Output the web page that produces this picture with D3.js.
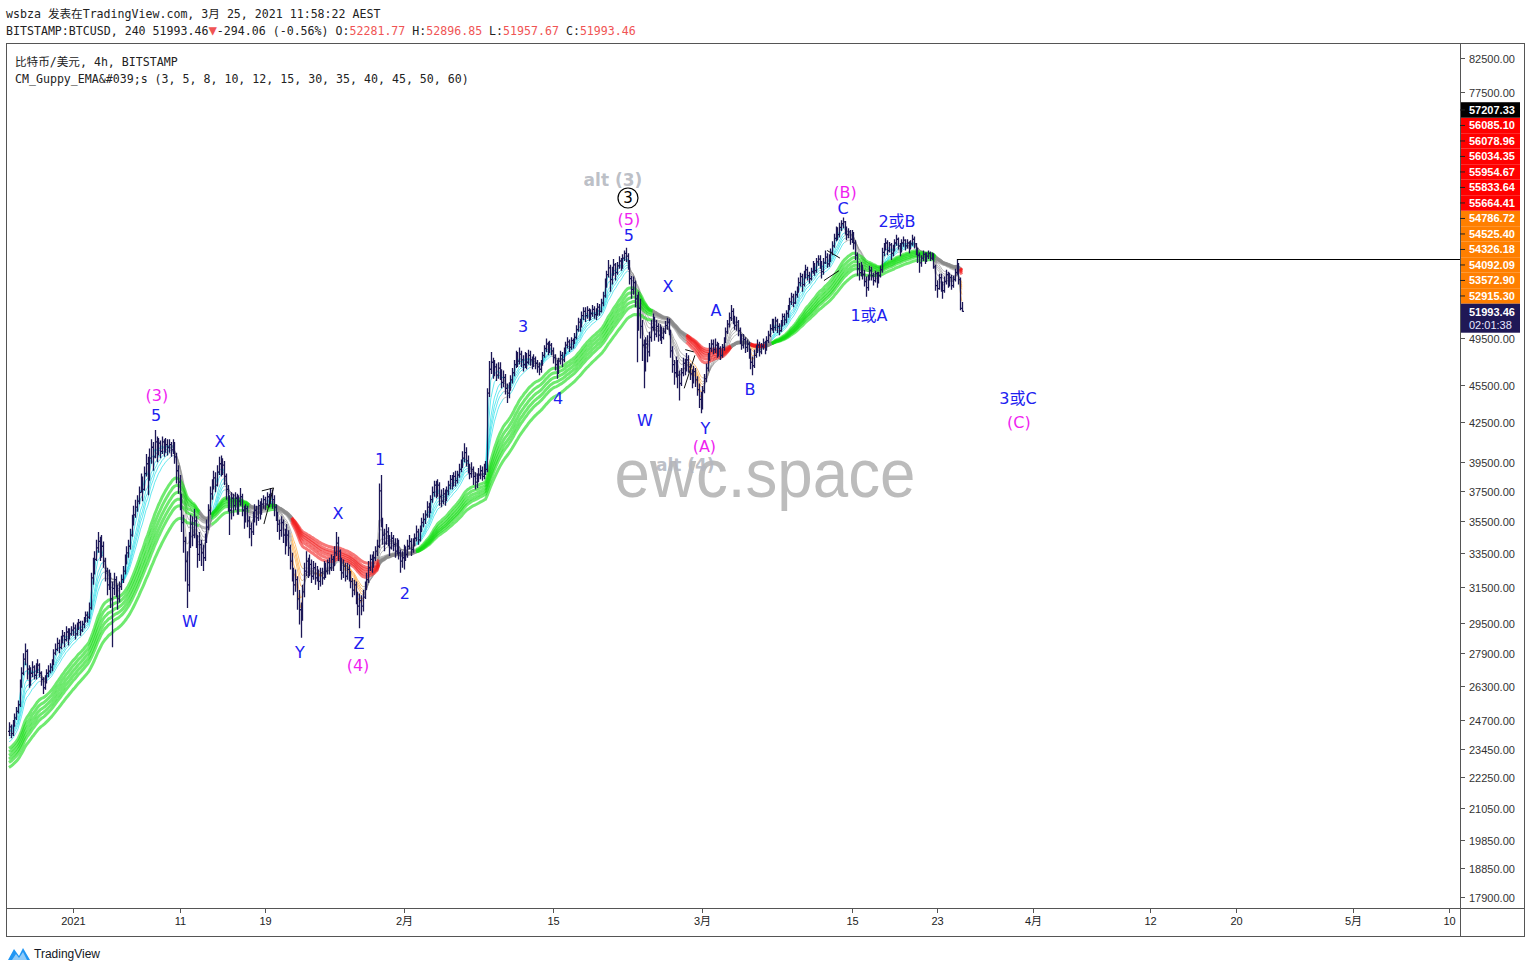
<!DOCTYPE html>
<html><head><meta charset="utf-8">
<script src="https://cdn.jsdelivr.net/npm/d3@7"></script>
<style>body{margin:0;background:#fff}svg{display:block}</style>
</head><body><svg id="c" width="1531" height="973"></svg>
<script>
// ---------------- DATA ----------------
const barStartUTC = Date.UTC(2020, 11, 26, 0, 0);   // first 4h bar
const barHours = 4;
const firstOpen = 24.2;  // thousand USD
const lastOpen = 52.28177;
const closes = [
24.4,24.1,24.6,24.8,25.1,25.4, 26.4,26.9,27.6,28.0,27.1,26.5, 26.9,27.2,26.8,27.1,27.3,26.9, 26.6,26.2,26.5,26.9,27.0,27.2,
27.4,27.9,28.1,28.4,28.2,28.5, 28.8,28.6,29.0,28.7,28.9,29.1, 29.2,28.9,29.3,29.5,29.1,29.4, 29.6,29.9,29.8,30.3,32.0,32.5,
33.1,33.8,34.2,33.4,33.9,33.0, 32.4,31.6,32.1,30.8,31.4,31.9, 31.4,30.8,31.5,31.9,32.4,33.0, 33.5,33.9,34.6,35.4,35.9,36.4,
36.8,37.4,38.2,37.6,38.7,39.4, 38.5,39.8,40.6,39.9,41.0,40.3, 40.9,40.3,41.0,40.5,40.8,40.6, 40.8,40.4,40.9,39.9,38.9,38.1,
36.9,35.4,34.2,33.0,31.6,34.2, 35.3,34.6,35.5,34.2,33.4,34.0, 33.5,33.2,34.3,35.1,36.2,37.3, 37.8,38.4,37.9,38.8,39.4,39.1,
39.3,38.5,37.6,36.9,36.2,37.0, 36.5,37.0,36.3,36.8,37.1,36.2, 35.7,36.3,35.5,35.0,34.8,35.8, 36.2,35.7,36.5,36.1,36.6,36.9,
36.6,37.1,36.8,37.3,36.9,36.4, 35.9,35.3,34.9,35.4,34.6,34.2, 34.6,33.8,33.0,32.4,31.6,31.9, 30.8,30.2,29.8,31.2,32.4,33.0,
32.4,32.8,32.1,32.6,32.0,32.3, 31.8,32.3,32.0,32.7,32.4,32.9, 32.6,33.1,32.8,33.5,34.1,33.6, 32.9,32.3,32.7,32.1,32.5,32.2,
31.8,31.3,31.6,30.9,30.4,30.7, 30.4,30.9,31.5,31.9,32.6,33.1, 32.8,33.2,33.6,33.9,37.5,35.6, 34.6,34.1,34.8,34.3,33.8,34.4,
34.0,33.6,34.1,33.5,33.0,33.2, 33.6,33.4,33.9,34.2,33.7,34.1, 34.4,34.8,34.3,34.9,35.4,35.6, 35.9,36.4,36.1,36.9,37.4,37.9,
37.4,37.9,37.1,36.8,37.3,37.0, 37.5,37.9,38.3,38.0,38.5,38.2, 38.6,39.0,39.3,39.8,40.2,39.6, 39.2,38.7,39.0,38.5,38.1,38.3,
38.6,38.9,38.5,38.8,39.0,44.8, 46.8,47.4,46.5,47.0,46.3,46.9, 46.4,45.7,46.1,45.2,44.8,45.3, 45.9,46.5,47.2,47.9,47.5,48.1,
47.6,47.2,47.9,47.4,48.0,47.6, 47.2,47.7,47.3,47.0,46.8,47.3, 48.0,48.6,49.0,48.5,48.9,48.4, 47.8,47.2,46.6,47.5,48.0,47.6,
48.4,48.9,49.2,48.7,49.3,49.1, 49.6,50.3,51.0,50.6,51.6,52.0, 51.6,52.1,51.4,51.8,52.2,51.7, 51.9,52.4,52.0,52.8,53.5,54.6,
55.6,56.3,55.1,55.9,56.6,55.8, 56.5,57.0,56.4,57.3,57.8,57.5, 56.8,55.2,54.1,54.8,53.2,51.0, 52.3,50.6,48.9,47.2,49.0,48.3,
49.6,50.5,51.3,49.9,50.6,49.8, 50.3,49.6,50.1,50.7,51.0,50.2, 48.4,47.2,46.5,47.4,46.3,45.6, 46.5,47.3,46.8,47.6,47.0,46.4,
45.8,46.6,45.9,45.1,44.3,44.0, 45.0,46.0,46.9,47.8,48.6,49.0, 48.5,48.9,48.2,48.6,48.0,48.7, 49.3,50.1,50.8,51.4,52.0,51.3,
50.7,51.0,50.2,49.6,48.9,49.4, 48.7,49.0,48.2,47.4,47.1,48.0, 48.5,48.9,48.3,48.8,49.1,48.6, 49.3,49.8,50.4,50.9,50.5,51.1,
50.6,50.2,50.8,51.5,51.2,51.8, 52.3,52.9,53.4,52.8,53.6,54.1, 54.8,55.4,54.6,55.6,56.1,55.5, 55.2,55.9,56.5,56.0,56.9,57.2,
56.6,55.9,56.8,57.4,56.7,57.3, 57.9,58.6,59.4,60.2,59.8,60.6, 61.0,61.2,60.3,59.8,60.1,59.3, 59.8,58.9,57.6,56.2,55.8,56.4,
55.6,54.9,54.3,55.2,56.0,55.5, 55.0,55.7,54.8,55.5,56.1,57.9, 58.4,58.9,58.1,58.7,57.8,58.3, 58.9,59.3,58.6,58.2,58.9,59.2,
58.6,58.9,58.4,58.8,59.3,58.8, 58.2,57.6,56.8,57.3,57.7,57.2, 57.5,57.8,57.3,57.6,56.4,54.5, 54.2,55.3,54.6,54.0,54.9,55.6,
54.8,55.3,54.5,55.1,55.8,56.6, 55.1,52.28752,51.99346];
const highs = [
24.6,24.5,24.7,25.0,25.3,25.6, 26.6,27.2,27.9,28.4,28.1,27.3, 27.2,27.5,27.3,27.4,27.6,27.4, 27.0,26.7,26.8,27.1,27.3,27.4,
27.6,28.1,28.4,28.7,28.6,28.8, 29.1,29.0,29.3,29.2,29.2,29.3, 29.5,29.4,29.5,29.7,29.6,29.6, 29.8,30.1,30.1,30.6,32.3,33.2,
33.6,34.3,34.8,34.5,34.6,34.2, 33.2,32.6,32.5,32.3,31.8,32.3, 32.1,31.6,31.8,32.2,32.7,33.4, 33.9,34.3,35.0,35.9,36.5,36.9,
37.2,37.8,38.7,38.5,39.2,40.1, 39.9,40.5,41.2,41.0,41.9,41.4, 41.3,41.1,41.4,41.2,41.3,41.2, 41.2,41.0,41.2,41.0,40.2,39.3,
38.6,37.3,35.9,34.5,33.6,34.8, 35.9,35.8,36.3,35.8,34.6,34.8, 34.3,34.0,34.7,35.6,36.6,37.8, 38.3,38.9,38.8,39.3,39.9,40.0,
39.8,39.6,38.7,37.9,37.2,37.4, 37.3,37.4,37.3,37.2,37.7,37.3, 36.5,36.6,36.5,35.8,35.4,36.1, 36.6,36.5,36.9,36.8,37.0,37.2,
37.1,37.4,37.3,37.7,37.6,37.2, 36.6,36.1,35.6,35.8,35.6,35.0, 35.3,34.9,34.0,33.5,32.6,32.5, 32.1,31.3,30.6,31.6,32.9,33.6,
33.2,33.4,33.1,33.0,32.9,32.7, 32.5,32.6,32.6,33.0,32.9,33.1, 33.2,33.4,33.3,33.9,34.8,34.5, 33.7,33.2,33.1,32.9,32.9,32.8,
32.4,32.0,31.9,31.8,31.2,31.1, 31.0,31.3,31.8,32.3,33.0,33.4, 33.4,33.6,33.9,34.3,38.0,38.6, 35.7,35.0,35.3,35.1,34.6,34.8,
34.6,34.4,34.4,34.3,33.7,33.6, 34.0,33.9,34.3,34.6,34.4,34.4, 34.7,35.2,35.0,35.2,35.7,36.0, 36.2,36.8,36.7,37.2,37.8,38.2,
38.2,38.3,38.1,37.6,37.7,37.6, 37.8,38.2,38.6,38.6,38.8,38.9, 38.9,39.4,39.7,40.3,40.9,40.6, 40.0,39.4,39.5,39.2,38.8,38.7,
39.1,39.3,39.2,39.4,39.6,45.2, 47.5,48.3,47.8,47.6,47.3,47.4, 47.4,46.8,46.7,46.4,45.6,45.7, 46.3,46.9,47.6,48.4,48.3,48.7,
48.4,48.0,48.3,48.2,48.5,48.4, 47.9,48.1,47.9,47.6,47.4,47.6, 48.3,48.9,49.5,49.2,49.3,49.1, 48.7,48.1,47.6,47.8,48.4,48.3,
48.7,49.2,49.6,49.4,49.6,49.5, 50.0,50.7,51.4,51.3,52.0,52.4, 52.4,52.5,52.3,52.2,52.6,52.5, 52.3,52.8,52.7,53.2,53.9,55.2,
56.0,57.1,56.6,56.4,57.2,56.8, 56.9,57.5,57.3,57.7,58.1,58.4, 57.8,57.1,55.5,55.4,55.0,53.6, 53.9,53.2,51.2,49.4,49.6,49.8,
50.1,51.2,51.8,51.5,51.2,50.9, 50.8,50.6,50.5,51.1,51.4,51.3, 50.3,48.8,47.6,47.9,47.6,46.7, 46.9,47.8,47.7,48.2,48.0,47.3,
46.8,47.1,46.9,46.2,45.6,44.9, 45.4,46.4,47.3,48.2,49.1,49.4, 49.4,49.5,49.2,49.1,48.8,49.0, 49.6,50.5,51.2,51.9,52.6,52.3,
51.6,51.5,51.2,50.5,49.9,49.9, 49.6,49.4,49.2,48.6,47.9,48.5, 48.9,49.4,49.2,49.1,49.5,49.3, 49.7,50.2,50.8,51.3,51.3,51.5,
51.3,50.9,51.2,51.8,51.8,52.1, 52.6,53.3,53.8,53.7,54.0,54.4, 55.3,55.8,55.7,56.0,56.6,56.4, 55.9,56.3,57.0,56.8,57.3,57.6,
57.6,57.0,57.3,58.1,57.8,57.7, 58.3,59.1,59.9,60.7,60.6,61.1, 61.4,61.7,61.3,60.7,60.5,60.3, 60.3,60.1,59.2,57.9,56.8,56.9,
56.6,56.1,55.4,55.6,56.5,56.4, 55.8,56.0,55.9,55.9,56.5,58.4, 58.9,59.4,59.2,59.0,58.9,58.7, 59.3,59.8,59.5,58.9,59.3,59.6,
59.3,59.3,59.1,59.2,59.8,59.6, 58.9,58.4,57.9,57.6,58.1,57.9, 57.9,58.1,58.0,57.9,57.8,56.6, 55.0,55.7,55.7,54.9,55.4,56.1,
55.9,55.8,55.6,55.5,56.2,57.2, 56.8,55.3,52.89685];
const lows = [
24.0,23.9,24.0,24.4,24.7,25.0, 25.3,26.2,26.8,27.3,26.6,26.2, 26.3,26.7,26.6,26.6,26.9,26.7, 26.3,25.9,26.1,26.4,26.7,26.9,
27.0,27.3,27.8,28.0,27.9,28.1, 28.4,28.2,28.5,28.3,28.6,28.8, 28.8,28.6,28.8,29.1,28.8,29.0, 29.2,29.5,29.5,29.7,30.2,31.6,
32.2,33.0,33.5,33.0,33.2,32.6, 31.8,31.0,31.3,30.3,28.2,31.0, 30.9,30.2,30.6,31.3,31.7,32.2, 32.8,33.2,33.7,34.5,35.2,35.7,
36.1,36.6,37.4,36.8,37.5,38.5, 37.2,38.2,39.4,38.9,39.8,39.5, 40.0,39.8,40.1,39.9,40.2,40.0, 40.2,39.9,40.1,39.4,38.0,37.3,
36.2,34.8,33.5,31.8,30.3,31.2, 33.8,33.9,34.4,33.8,32.6,33.0, 32.7,32.4,33.0,34.1,34.9,35.9, 36.9,37.6,37.4,37.8,38.6,38.5,
38.6,37.9,36.9,36.1,34.6,35.6, 35.8,36.2,35.9,35.9,36.5,35.8, 35.0,35.4,35.1,34.4,33.9,34.6, 35.4,35.2,35.5,35.6,35.9,36.3,
36.2,36.5,36.4,36.6,36.3,35.8, 35.5,34.8,34.3,34.5,34.1,33.4, 33.9,33.3,32.5,31.8,31.0,31.2, 30.2,29.4,28.7,29.6,30.9,32.1,
32.0,32.1,31.7,31.9,31.6,31.8, 31.3,31.5,31.6,31.9,32.0,32.2, 32.2,32.4,32.4,32.7,33.3,33.0, 32.4,31.9,32.0,31.8,31.9,31.8,
31.4,30.9,31.0,30.5,29.9,29.2, 29.9,30.1,30.8,31.3,31.7,32.4, 32.3,32.6,33.0,33.3,33.8,35.1, 34.0,33.6,34.0,33.9,33.3,33.7,
33.6,33.2,33.4,33.1,32.3,32.6, 32.5,33.0,33.2,33.7,33.3,33.5, 33.9,34.2,34.0,34.2,34.8,35.1, 35.3,35.7,35.7,36.0,36.7,37.1,
37.0,37.1,36.5,36.4,36.6,36.5, 36.8,37.2,37.6,37.6,37.8,37.8, 38.0,38.4,38.8,39.1,39.5,39.2, 38.7,38.3,38.4,37.9,37.6,37.7,
38.1,38.3,38.2,38.3,38.6,38.8, 44.5,46.4,46.0,46.2,45.8,46.0, 45.9,45.2,45.3,44.7,44.0,44.4, 45.0,45.6,46.2,46.9,47.0,47.2,
47.0,46.6,46.9,46.8,47.2,47.1, 46.8,47.0,46.8,46.5,46.3,46.5, 47.1,47.8,48.3,48.0,48.2,48.0, 47.3,46.7,46.0,46.4,47.2,47.0,
47.4,48.1,48.6,48.3,48.5,48.6, 49.0,49.4,50.1,50.1,50.5,51.2, 51.0,51.3,51.1,51.2,51.5,51.3, 51.2,51.6,51.6,51.9,52.5,53.3,
54.3,55.3,53.9,54.6,55.5,55.0, 55.6,56.2,56.0,56.2,57.0,56.9, 56.1,54.6,53.2,53.6,52.4,47.4, 50.2,49.5,47.5,45.2,46.6,47.4,
47.9,49.2,50.2,49.3,49.6,49.2, 49.3,49.0,49.4,49.9,50.3,49.8, 47.8,46.5,45.5,46.1,45.2,44.2, 45.4,46.2,46.3,46.6,46.5,45.9,
45.2,45.6,45.3,44.6,43.6,43.2, 43.5,44.8,45.7,46.6,47.5,48.3, 48.1,48.2,47.8,47.9,47.6,47.8, 48.4,49.1,49.9,50.5,51.1,50.8,
50.3,50.2,49.7,49.0,48.5,48.6, 48.2,48.3,47.7,46.8,46.3,46.9, 47.8,48.2,47.9,48.1,48.5,48.1, 48.4,49.1,49.6,50.2,50.0,50.2,
50.0,49.8,50.1,50.6,50.7,50.9, 51.4,52.1,52.6,52.4,52.7,53.3, 53.8,54.4,53.9,54.4,55.2,55.0, 54.7,55.0,55.7,55.5,55.8,56.5,
56.2,55.2,55.6,56.7,56.3,56.4, 56.9,57.6,58.4,59.1,59.2,59.5, 60.2,60.5,59.8,59.2,59.4,58.7, 58.9,58.2,57.1,55.5,55.0,55.4,
55.1,54.4,53.4,54.0,55.0,55.0, 54.5,54.8,54.3,54.7,55.3,55.8, 57.5,58.1,57.6,57.9,57.1,57.5, 58.0,58.6,58.2,57.5,57.9,58.5,
58.1,58.3,57.8,58.2,58.6,58.3, 57.6,56.8,55.8,56.4,57.0,56.7, 56.9,57.2,57.0,57.1,56.2,54.0, 53.3,54.1,53.9,53.2,53.8,54.6,
54.3,54.4,54.1,54.3,54.9,55.6, 54.6,52.1,51.95767];

// Guppy EMA settings
const emaPeriods = [3, 5, 8, 10, 12, 15, 30, 35, 40, 45, 50, 60];
const emaSeeds = [24.3, 24.15, 24.0, 23.9, 23.8, 23.65, 23.4, 23.25, 23.1, 22.95, 22.8, 22.6]; // value before first bar (k USD)

// right-axis price labels
const slowEmaLabels = [56085.10, 56078.96, 56034.35, 55954.67, 55833.64, 55664.41];
const fastEmaLabels = [54786.72, 54525.40, 54326.18, 54092.09, 53572.90, 52915.30];
const hLineLevel = 57207.33;
const lastPrice = 51993.46;
const countdown = "02:01:38";

const priceTicks = [82500, 77500, 49500, 45500, 42500, 39500, 37500, 35500, 33500, 31500, 29500, 27900, 26300, 24700, 23450, 22250, 21050, 19850, 18850, 17900];
const timeTicks = [["2021-01-01","2021"],["2021-01-11","11"],["2021-01-19","19"],["2021-02-01","2月"],["2021-02-15","15"],["2021-03-01","3月"],["2021-03-15","15"],["2021-03-23","23"],["2021-04-01","4月"],["2021-04-12","12"],["2021-04-20","20"],["2021-05-01","5月"],["2021-05-10","10"]];

// wave labels: text, days after 2021-01-01, price, kind
const waveLabels = [
["(3)",7.87,44660,"m"],["5",7.78,43060,"b"],["W",10.97,29590,"b"],["X",13.78,41070,"b"],["X",24.84,36020,"b"],
["Y",21.28,27960,"b"],["Z",26.81,28420,"b"],["(4)",26.72,27310,"m"],["1",28.78,39740,"b"],["2",31.12,31140,"b"],
["3",42.19,50640,"b"],["4",45.47,44410,"b"],["(5)",52.12,61540,"m"],["5",52.12,59760,"b"],
["X",55.78,54460,"b"],["W",53.62,42670,"b"],["A",60.28,52130,"b"],["B",63.47,45140,"b"],["Y",59.28,42050,"b"],
["(A)",59.19,40650,"m"],["(B)",72.37,64630,"m"],["C",72.19,62770,"b"],["2或B",77.25,61310,"b"],["1或A",74.62,51660,"b"],
["3或C",88.59,44410,"b"],["(C)",88.68,42510,"m"]];
const altLabels = [["alt (3)",50.62,66060],["alt (4)",57.40,39350]];
const circled = ["3",52.03,63930];
// small trend-line drawings: arrays of [day, price]
const drawings = [
 [[17.7,37500],[18.8,37700],[17.9,35300]],
 [[57.4,48500],[58.2,48300]],
 [[57.3,45200],[58.3,48000]],
 [[70.7,58100],[71.9,57300]],
 [[70.4,55000],[71.8,56000]]
];

// ---------------- CHART ----------------
const W = 1531, H = 973;
const svg = d3.select("#c");
const DAY = 864e5, T0 = Date.UTC(2021,0,1);
const pane = {l:6, r:1460, t:43, b:908};
const x = d3.scaleUtc().domain([new Date(T0 - 6.1875*DAY), new Date(T0 + 130.03*DAY)]).range([7, 1460]);
const y = d3.scaleLog().domain([17541, 84785]).range([908, 43]);
const dx = d => x(new Date(T0 + d*DAY));

svg.append("rect").attr("width",W).attr("height",H).attr("fill","#fff");
svg.append("defs").append("clipPath").attr("id","clip").append("rect")
  .attr("x",pane.l+1).attr("y",pane.t+1).attr("width",pane.r-pane.l-1).attr("height",pane.b-pane.t-1);

const N = closes.length;
const bars = closes.map((c,i)=>{
  const o = i===0 ? firstOpen : (i===N-1 ? lastOpen : closes[i-1]);
  return {t:new Date(barStartUTC + i*barHours*3600e3), o:o*1000, c:c*1000,
          h:Math.max(highs[i],o,c)*1000, l:Math.min(lows[i],o,c)*1000};
});

// EMAs
const emas = emaPeriods.map((n,k)=>{ let v = emaSeeds[k]*1000; const a = 2/(n+1); return bars.map(b => (v = a*b.c + (1-a)*v)); });
const fastCol = [], slowCol = [];
for (let i=0;i<N;i++){
  const e = emas.map(s=>s[i]);
  const fL = e[0]>e[1]&&e[1]>e[2]&&e[2]>e[3]&&e[3]>e[4]&&e[4]>e[5];
  const fS = e[0]<e[1]&&e[1]<e[2]&&e[2]<e[3]&&e[3]<e[4]&&e[4]<e[5];
  const sL = e[6]>e[7]&&e[7]>e[8]&&e[8]>e[9]&&e[9]>e[10]&&e[10]>e[11];
  const sS = e[6]<e[7]&&e[7]<e[8]&&e[8]<e[9]&&e[9]<e[10]&&e[10]<e[11];
  fastCol.push(fL&&sL ? "aqua" : fS&&sS ? "orange" : "gray");
  slowCol.push(sL ? "lime" : sS ? "red" : "gray");
}
const palette = {aqua:"#00d9e6", orange:"#ff9a1a", gray:"#8a8a8a", lime:"#0fdc0f", red:"#f21d1d"};
const plot = svg.append("g").attr("clip-path","url(#clip)");
const gE = plot.append("g");
function drawRuns(vals, cols, w, op){
  const ln = d3.line().x(i=>x(bars[i].t)).y(i=>y(vals[i]));
  let start = 0, cur = cols[1];
  const emit = (a,b,col)=>{ gE.append("path").attr("d", ln(d3.range(a,b+1))).attr("fill","none")
      .attr("stroke",palette[col]).attr("stroke-width",w).attr("stroke-opacity",op).attr("stroke-linejoin","round"); };
  for (let i=2;i<N;i++){ if (cols[i]!==cur){ emit(start,i-1,cur); start=i-1; cur=cols[i]; } }
  emit(start,N-1,cur);
}
for (let k=0;k<6;k++) drawRuns(emas[k], fastCol, 1, 0.6);
for (let k=6;k<12;k++) drawRuns(emas[k], slowCol, 3, 0.6);

// OHLC bars
let dPath = "";
bars.forEach(b=>{
  const xi = Math.round(x(b.t)) + 0.5;
  dPath += `M${xi},${y(b.h)}V${y(b.l)}M${xi-1.5},${y(b.o)}H${xi}M${xi},${y(b.c)}H${xi+1.5}`;
});
plot.append("path").attr("d",dPath).attr("fill","none").attr("stroke","#1c1756").attr("stroke-width",1.3);

// horizontal ray at 57207.33 from Mar 24 bar
const rayStart = bars[533].t;
plot.append("line").attr("x1",Math.round(x(rayStart))).attr("x2",pane.r).attr("y1",Math.round(y(hLineLevel))+0.5).attr("y2",Math.round(y(hLineLevel))+0.5)
  .attr("stroke","#000").attr("stroke-width",1);

// drawings
drawings.forEach(pts=>{
  plot.append("path").attr("d", d3.line().x(p=>dx(p[0])).y(p=>y(p[1]))(pts)).attr("fill","none").attr("stroke","#111").attr("stroke-width",1);
});

// watermark
plot.append("text").attr("x",dx((765-73)/10.667)).attr("y",497).attr("text-anchor","middle")
  .attr("font-family","Liberation Sans, Arial, sans-serif").attr("font-size",68).attr("fill","#bcbcbc")
  .attr("textLength",301).attr("lengthAdjust","spacingAndGlyphs").text("ewc.space");

// wave labels
const lf = "DejaVu Sans, Noto Sans CJK SC, sans-serif";
waveLabels.forEach(([t,d,p,k])=>{
  plot.append("text").attr("x",dx(d)).attr("y",y(p)).attr("dy","0.36em").attr("text-anchor","middle")
    .attr("font-family",lf).attr("font-size",16).attr("fill", k==="m" ? "#f01ff0" : "#2020f0").text(t);
});
altLabels.forEach(([t,d,p])=>{
  plot.append("text").attr("x",dx(d)).attr("y",y(p)).attr("dy","0.36em").attr("text-anchor","middle")
    .attr("font-family",lf).attr("font-size",17).attr("font-weight","bold").attr("fill","#b4b7c0").attr("fill-opacity",0.9).text(t);
});
plot.append("circle").attr("cx",dx(circled[1])).attr("cy",y(circled[2])).attr("r",10).attr("fill","#fff").attr("stroke","#000").attr("stroke-width",1.2);
plot.append("text").attr("x",dx(circled[1])).attr("y",y(circled[2])).attr("dy","0.36em").attr("text-anchor","middle")
  .attr("font-family",lf).attr("font-size",15).attr("fill","#000").text(circled[0]);

// legend inside pane
const mono = "DejaVu Sans Mono, Noto Sans CJK SC, monospace";
svg.append("text").attr("x",15).attr("y",66).attr("font-family",mono).attr("font-size",11.6).attr("fill","#222").text("比特币/美元, 4h, BITSTAMP");
svg.append("text").attr("x",15).attr("y",83).attr("font-family",mono).attr("font-size",11.6).attr("fill","#222").text("CM_Guppy_EMA&#039;s (" + emaPeriods.join(", ") + ")");

// header
svg.append("text").attr("x",6).attr("y",18).attr("font-family",mono).attr("font-size",11.6).attr("fill","#222").text("wsbza 发表在TradingView.com, 3月 25, 2021 11:58:22 AEST");
const last = bars[N-1];
const hdr = svg.append("text").attr("x",6).attr("y",35).attr("font-family",mono).attr("font-size",11.6).attr("fill","#222");
const red = "#f05454";
const chg = last.c - bars[N-2].c;
hdr.append("tspan").text("BITSTAMP:BTCUSD, 240 " + last.c.toFixed(2));
hdr.append("tspan").attr("fill",red).attr("font-size",14).text("▼");
hdr.append("tspan").text(chg.toFixed(2) + " (" + (chg/bars[N-2].c*100).toFixed(2) + "%) O:");
hdr.append("tspan").attr("fill",red).text(last.o.toFixed(2));
hdr.append("tspan").text(" H:");
hdr.append("tspan").attr("fill",red).text(last.h.toFixed(2));
hdr.append("tspan").text(" L:");
hdr.append("tspan").attr("fill",red).text(last.l.toFixed(2));
hdr.append("tspan").text(" C:");
hdr.append("tspan").attr("fill",red).text(last.c.toFixed(2));

// frame
const fr = svg.append("g").attr("stroke","#555").attr("stroke-width",1).attr("fill","none");
fr.append("rect").attr("x",6.5).attr("y",43.5).attr("width",1518).attr("height",893);
fr.append("line").attr("x1",1460.5).attr("x2",1460.5).attr("y1",43).attr("y2",937);
fr.append("line").attr("x1",6).attr("x2",1525).attr("y1",908.5).attr("y2",908.5);

// price axis
const af = "Liberation Sans, Arial, sans-serif";
const pa = svg.append("g");
priceTicks.forEach(v=>{
  const yy = Math.round(y(v))+0.5;
  pa.append("line").attr("x1",1460).attr("x2",1465).attr("y1",yy).attr("y2",yy).attr("stroke","#555");
  pa.append("text").attr("x",1469).attr("y",yy+4).attr("font-family",af).attr("font-size",11).attr("fill","#333").text(v.toFixed(2));
});
// stacked value labels
const stack = [...fastEmaLabels.map(v=>({v,c:"#ff7f00"})), ...slowEmaLabels.map(v=>({v,c:"#ff0000"})), {v:hLineLevel,c:"#000"}].sort((a,b)=>a.v-b.v);
const lastY = y(lastPrice);
let prev = lastY;
const LH = 15.5;
stack.forEach(s=>{
  const cy = Math.min(y(s.v), prev - LH); prev = cy;
  pa.append("rect").attr("x",1461).attr("y",cy-LH/2).attr("width",59).attr("height",LH).attr("fill",s.c);
  pa.append("line").attr("x1",1460).attr("x2",1465).attr("y1",cy).attr("y2",cy).attr("stroke","#222");
  pa.append("text").attr("x",1469).attr("y",cy+4).attr("font-family",af).attr("font-size",11).attr("font-weight","bold").attr("fill","#fff").text(s.v.toFixed(2));
});
pa.append("rect").attr("x",1461).attr("y",lastY-LH/2).attr("width",59).attr("height",29).attr("fill","#1f1856");
pa.append("text").attr("x",1469).attr("y",lastY+5).attr("font-family",af).attr("font-size",11).attr("font-weight","bold").attr("fill","#fff").text(lastPrice.toFixed(2));
pa.append("text").attr("x",1469).attr("y",lastY+18).attr("font-family",af).attr("font-size",11).attr("fill","#e8e8ff").text(countdown);

// time axis
const ta = svg.append("g");
timeTicks.forEach(([d,lab])=>{
  const xx = Math.round(x(new Date(d+"T00:00:00Z")))+0.5;
  ta.append("line").attr("x1",xx).attr("x2",xx).attr("y1",909).attr("y2",913).attr("stroke","#555");
  ta.append("text").attr("x",xx).attr("y",925).attr("text-anchor","middle").attr("font-family",af+", Noto Sans CJK SC").attr("font-size",11).attr("fill","#222").text(lab);
});

// TradingView logo
const lg = svg.append("g").attr("transform","translate(8,946)");
lg.append("path").attr("d","M0,14 L6,3 L11,10 L15,2 L22,14 Z").attr("fill","#2196f3");
lg.append("path").attr("d","M4,14 L8,8 L11,12 L15,6 L19,14 Z").attr("fill","#fff").attr("fill-opacity",0.5);
svg.append("text").attr("x",34).attr("y",958).attr("font-family",af).attr("font-size",12).attr("fill","#131722").text("TradingView");
</script></body></html>
